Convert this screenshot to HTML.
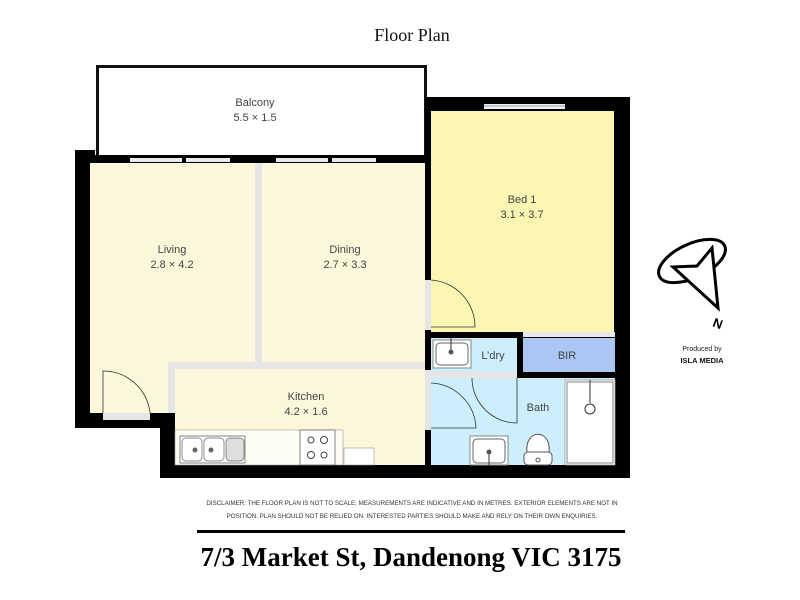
<!DOCTYPE html>
<html><head><style>body{margin:0;background:#fff}svg{display:block}</style></head><body>
<svg width="800" height="600" viewBox="0 0 800 600" xmlns="http://www.w3.org/2000/svg" font-family="Liberation Sans, sans-serif">
<rect width="800" height="600" fill="#fff"/>
<text x="412" y="41" font-family="Liberation Serif, serif" font-size="18" text-anchor="middle" fill="#111">Floor Plan</text>
<rect x="97.5" y="66.5" width="328" height="92" fill="#fff" stroke="#111" stroke-width="3"/>
<text x="255" y="106" font-size="11" text-anchor="middle" fill="#444">Balcony</text>
<text x="255" y="121" font-size="11" text-anchor="middle" fill="#444">5.5 × 1.5</text>
<rect x="75" y="150" width="20" height="278" fill="#000"/>
<rect x="75" y="155" width="355" height="9" fill="#000"/>
<rect x="425" y="97" width="205" height="14" fill="#000"/>
<rect x="425" y="97" width="6" height="370" fill="#000"/>
<rect x="614" y="97" width="16" height="381" fill="#000"/>
<rect x="160" y="413" width="16" height="65" fill="#000"/>
<rect x="160" y="465" width="470" height="13" fill="#000"/>
<rect x="75" y="413" width="100" height="15" fill="#000"/>
<rect x="90" y="163" width="166" height="250" fill="#fcf7da"/>
<rect x="255" y="163" width="7" height="200" fill="#e6e6e6"/>
<rect x="262" y="163" width="163" height="199" fill="#fcf7da"/>
<rect x="168" y="362" width="257" height="7" fill="#e6e6e6"/>
<rect x="168" y="362" width="7" height="51" fill="#e6e6e6"/>
<rect x="175" y="369" width="250" height="96" fill="#fcf7da"/>
<rect x="103" y="413" width="47" height="7" fill="#e6e6e6"/>
<rect x="130" y="158" width="100" height="4" fill="#e8e8e8"/>
<rect x="182" y="157" width="4" height="6" fill="#000"/>
<rect x="276" y="158" width="100" height="4" fill="#e8e8e8"/>
<rect x="328" y="157" width="4" height="6" fill="#000"/>
<path d="M103 413 V371 A47 47 0 0 1 150 413" fill="none" stroke="#333" stroke-width="0.8"/>
<text x="172" y="253" font-size="11" text-anchor="middle" fill="#444">Living</text>
<text x="172" y="268" font-size="11" text-anchor="middle" fill="#444">2.8 × 4.2</text>
<text x="345" y="253" font-size="11" text-anchor="middle" fill="#444">Dining</text>
<text x="345" y="268" font-size="11" text-anchor="middle" fill="#444">2.7 × 3.3</text>
<text x="306" y="400" font-size="11" text-anchor="middle" fill="#444">Kitchen</text>
<text x="306" y="415" font-size="11" text-anchor="middle" fill="#444">4.2 × 1.6</text>
<rect x="175" y="430" width="168" height="35" fill="#fefdf4" stroke="#999" stroke-width="0.6"/>
<rect x="344" y="448" width="30" height="17" fill="#fff" stroke="#999" stroke-width="0.6"/>
<rect x="180" y="436" width="65" height="27" fill="#fff" stroke="#666" stroke-width="0.8"/>
<rect x="182" y="438" width="20" height="23" rx="4" fill="#fff" stroke="#666" stroke-width="0.7"/>
<rect x="204" y="438" width="20" height="23" rx="4" fill="#fff" stroke="#666" stroke-width="0.7"/>
<rect x="226" y="438" width="18" height="23" rx="4" fill="#ddd" stroke="#666" stroke-width="0.7"/>
<circle cx="195" cy="450" r="2.5" fill="#666"/><circle cx="211" cy="450" r="2.5" fill="#666"/>
<rect x="300" y="430" width="35" height="35" fill="#fff" stroke="#666" stroke-width="0.8"/>
<circle cx="311" cy="440" r="3" fill="none" stroke="#444"/><circle cx="324" cy="440" r="3.5" fill="none" stroke="#444"/>
<circle cx="311" cy="455" r="3.5" fill="none" stroke="#444"/><circle cx="324" cy="455" r="3" fill="none" stroke="#444"/>
<rect x="431" y="111" width="183" height="221" fill="#fbf5b3"/>
<rect x="484" y="104" width="81" height="5" fill="#eee"/>
<line x1="484" y1="106" x2="565" y2="106" stroke="#555" stroke-width="0.6"/>
<rect x="425" y="280" width="6" height="50" fill="#e6e6e6"/>
<path d="M431 280 A47 47 0 0 1 475 327 H431" fill="none" stroke="#333" stroke-width="0.8"/>
<text x="522" y="203" font-size="11" text-anchor="middle" fill="#444">Bed 1</text>
<text x="522" y="218" font-size="11" text-anchor="middle" fill="#444">3.1 × 3.7</text>
<rect x="425" y="332" width="205" height="6" fill="#000"/>
<rect x="520" y="332" width="95" height="5" fill="#e8e8e8"/>
<rect x="431" y="338" width="86" height="40" fill="#cdeefb"/>
<rect x="522" y="338" width="93" height="34" fill="#a9c7f2"/>
<rect x="517" y="332" width="6" height="46" fill="#000"/>
<rect x="517" y="372" width="98" height="6" fill="#000"/>
<rect x="431" y="378" width="184" height="87" fill="#cdeefb"/>
<rect x="431" y="372" width="86" height="6" fill="#e6e6e6"/>
<rect x="425" y="370" width="6" height="60" fill="#e6e6e6"/>
<rect x="565" y="380" width="50" height="85" fill="#fff" stroke="#999" stroke-width="0.8"/>
<rect x="567" y="382" width="46" height="81" fill="none" stroke="#666" stroke-width="0.8"/>
<line x1="590" y1="380" x2="590" y2="403" stroke="#333"/><circle cx="590" cy="409" r="5" fill="#fff" stroke="#333"/>
<rect x="433" y="340" width="38" height="28" fill="#fff" stroke="#888"/><rect x="436" y="343" width="32" height="22" rx="4" fill="#fff" stroke="#666"/>
<line x1="451" y1="338" x2="451" y2="352" stroke="#333"/><circle cx="451" cy="352" r="2.5" fill="#555"/>
<text x="493" y="359" font-size="11" text-anchor="middle" fill="#444">L’dry</text>
<text x="567" y="359" font-size="11" text-anchor="middle" fill="#444">BIR</text>
<text x="538" y="411" font-size="11" text-anchor="middle" fill="#444">Bath</text>
<path d="M431 383 A47 47 0 0 1 476 428 H431" fill="none" stroke="#333" stroke-width="0.8"/>
<path d="M472 378 A45 45 0 0 0 517 423 V378" fill="none" stroke="#333" stroke-width="0.8"/>
<rect x="470" y="436" width="38" height="29" fill="#fff" stroke="#888"/><rect x="473" y="439" width="32" height="24" rx="4" fill="#fff" stroke="#666"/>
<line x1="489" y1="452" x2="489" y2="465" stroke="#333"/><circle cx="489" cy="452" r="2.5" fill="#555"/>
<path d="M527 453 C524 428 552 428 549 453 Z" fill="#fff" stroke="#555"/>
<rect x="524" y="452" width="28" height="13" rx="4" fill="#fff" stroke="#555"/>
<circle cx="538" cy="460" r="2" fill="none" stroke="#555"/>
<g fill="none" stroke="#000" stroke-width="3" stroke-linejoin="miter">
<ellipse cx="692" cy="261" rx="36" ry="17" transform="rotate(-25 692 261)"/>
<path d="M712 248 L697 266 L673 267 L718 308 Z" fill="#fff"/>
</g>
<text x="718" y="328" font-size="13" font-weight="bold" text-anchor="middle" transform="rotate(20 718 323)">N</text>
<text x="702" y="351" font-size="7" text-anchor="middle" fill="#222">Produced by</text>
<text x="702" y="363" font-size="7.5" font-weight="bold" text-anchor="middle" fill="#111">ISLA MEDIA</text>
<text x="412" y="505" font-size="6.2" text-anchor="middle" fill="#333">DISCLAIMER: THE FLOOR PLAN IS NOT TO SCALE; MEASUREMENTS ARE INDICATIVE AND IN METRES. EXTERIOR ELEMENTS ARE NOT IN</text>
<text x="412" y="518" font-size="6.2" text-anchor="middle" fill="#333">POSITION. PLAN SHOULD NOT BE RELIED ON. INTERESTED PARTIES SHOULD MAKE AND RELY ON THEIR OWN ENQUIRIES.</text>
<rect x="197" y="530" width="428" height="3" fill="#000"/>
<text x="411" y="566" font-family="Liberation Serif, serif" font-size="27" font-weight="bold" text-anchor="middle" fill="#000">7/3 Market St, Dandenong VIC 3175</text>
</svg>
</body></html>
